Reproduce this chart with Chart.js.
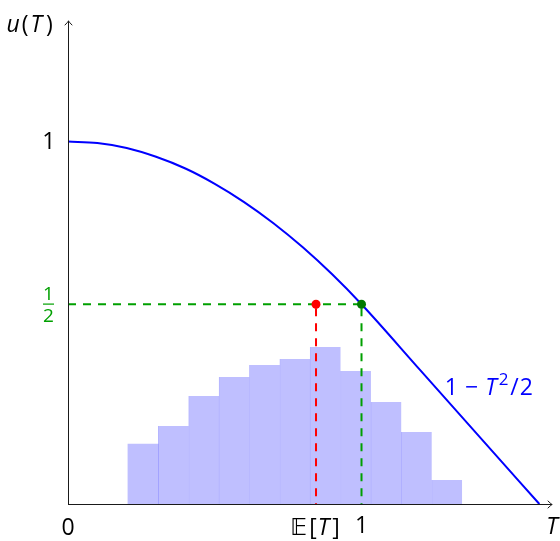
<!DOCTYPE html>
<html>
<head>
<meta charset="utf-8">
<script src="https://cdn.jsdelivr.net/npm/chart.js@4.4.1/dist/chart.umd.min.js"></script>
<style>
  html, body { margin: 0; padding: 0; background: #ffffff; }
  #wrap { width: 560px; height: 541px; }
</style>
</head>
<body>
<div id="wrap"><canvas id="c" width="560" height="541"></canvas></div>
<script>
// Utility curve u(T), sampled along the drawn line
const curveT = [0, 0.1, 0.2, 0.3, 0.4, 0.5, 0.6, 0.7, 0.8, 0.9, 1.0, 1.2, 1.4, 1.606];
const curveU = [1.000, 0.995, 0.980, 0.953, 0.917, 0.870, 0.814, 0.749, 0.675, 0.592, 0.500, 0.2977, 0.0953, -0.1133];

// Histogram of T (bin centres and bar heights above the horizontal axis)
const binCenters = [0.2559, 0.3594, 0.4629, 0.5664, 0.6699, 0.7734, 0.8769, 0.9804, 1.0839, 1.1874, 1.2909];
const binHeights = [0.1843, 0.2396, 0.3317, 0.3900, 0.4269, 0.4453, 0.4822, 0.4085, 0.3133, 0.2211, 0.0737];

// Marked points
const expectedT = 0.845;   // E[T]
const certainT = 1;        // T = 1
const halfU = 0.5;         // u = 1/2

// Axis extents
const X_MIN = 0, X_MAX = 1.649;
const Y_MIN = -0.1133, Y_MAX = 1.370;

const BLUE = '#0000ff';
const RED = '#ff0000';
const GREEN_DASH = '#00a000';
const GREEN_DOT = '#007a00';
const HIST_FILL = '#bfbfff';
const FONT_FAMILY = '"Open Sans", "DejaVu Sans", sans-serif';

const curvePoints = curveT.map((t, i) => ({ x: t, y: curveU[i] }));
const histPoints = binCenters.map((c, i) => ({ x: c, y: binHeights[i] }));

// Draws a sequence of text runs (different fonts / offsets) starting at x
function drawRuns(ctx, x, y, runs, align) {
  let total = 0;
  runs.forEach(r => { ctx.font = r.font; total += ctx.measureText(r.text).width + (r.gap || 0); });
  let cx = align === 'center' ? x - total / 2 : (align === 'right' ? x - total : x);
  ctx.textAlign = 'left';
  ctx.textBaseline = 'alphabetic';
  runs.forEach(r => {
    ctx.font = r.font;
    ctx.fillText(r.text, cx, y + (r.dy || 0));
    cx += ctx.measureText(r.text).width + (r.gap || 0);
  });
}

const axesAndLabels = {
  id: 'axesAndLabels',
  afterDatasetsDraw(chart) {
    const ctx = chart.ctx;
    const xs = chart.scales.x, ys = chart.scales.y;
    const x0 = Math.round(xs.getPixelForValue(X_MIN)) + 0.5;
    const y0 = Math.round(ys.getPixelForValue(Y_MIN)) + 0.5;
    const xEnd = xs.getPixelForValue(X_MAX);
    const yEnd = ys.getPixelForValue(Y_MAX);
    ctx.save();
    ctx.strokeStyle = '#1a1a1a';
    ctx.lineWidth = 1;
    ctx.lineCap = 'round';
    ctx.lineJoin = 'round';
    // horizontal axis with arrow
    ctx.beginPath();
    ctx.moveTo(x0, y0); ctx.lineTo(xEnd, y0);
    ctx.moveTo(xEnd - 4, y0 - 3.5); ctx.quadraticCurveTo(xEnd - 1.5, y0 - 1, xEnd, y0);
    ctx.quadraticCurveTo(xEnd - 1.5, y0 + 1, xEnd - 4, y0 + 3.5);
    ctx.stroke();
    // vertical axis with arrow
    ctx.beginPath();
    ctx.moveTo(x0, y0); ctx.lineTo(x0, yEnd);
    ctx.moveTo(x0 - 3.5, yEnd + 4); ctx.quadraticCurveTo(x0 - 1, yEnd + 1.5, x0, yEnd);
    ctx.quadraticCurveTo(x0 + 1, yEnd + 1.5, x0 + 3.5, yEnd + 4);
    ctx.stroke();

    const REG = '23px ' + FONT_FAMILY;
    const IT = 'italic 23px ' + FONT_FAMILY;
    ctx.fillStyle = '#000000';

    // vertical axis title u(T)
    drawRuns(ctx, x0 - 62, yEnd + 11, [
      { text: 'u', font: IT, gap: 2 },
      { text: '(', font: REG, gap: 2 },
      { text: 'T', font: IT, gap: 4 },
      { text: ')', font: REG }
    ], 'left');

    // horizontal axis title T
    drawRuns(ctx, xEnd, y0 + 29, [{ text: 'T', font: IT }], 'center');

    // horizontal axis labels
    const xBase = y0 + 28;
    drawRuns(ctx, xs.getPixelForValue(0), xBase + 2, [{ text: '0', font: REG }], 'center');
    drawRuns(ctx, xs.getPixelForValue(certainT), xBase, [{ text: '1', font: REG }], 'center');
    drawRuns(ctx, xs.getPixelForValue(expectedT) - 1, xBase + 2, [
      { text: '\u{1D53C}', font: '23px "DejaVu Sans", sans-serif', gap: 2 },
      { text: '[', font: REG, gap: 1 },
      { text: 'T', font: IT, gap: 3 },
      { text: ']', font: REG }
    ], 'center');

    // vertical axis label 1
    drawRuns(ctx, x0 - 13, ys.getPixelForValue(1) + 8, [{ text: '1', font: REG }], 'right');

    // vertical axis label 1/2 as a stacked fraction
    const fy = ys.getPixelForValue(halfU);
    const fx = x0 - 20;
    ctx.fillStyle = GREEN_DASH;
    drawRuns(ctx, fx, fy - 4, [{ text: '1', font: '19px ' + FONT_FAMILY }], 'center');
    drawRuns(ctx, fx, fy + 18, [{ text: '2', font: '19px ' + FONT_FAMILY }], 'center');
    ctx.fillRect(fx - 5.5, Math.round(fy) - 0.5, 11, 1.2);

    // curve label 1 − T²/2
    ctx.fillStyle = BLUE;
    const lx = xs.getPixelForValue(1.284);
    const ly = ys.getPixelForValue(0.221);
    drawRuns(ctx, lx, ly, [
      { text: '1', font: REG, gap: 7 },
      { text: '\u2212', font: REG, gap: 7 },
      { text: 'T', font: IT, gap: 2 },
      { text: '2', font: '17px ' + FONT_FAMILY, dy: -10, gap: 2 },
      { text: '/', font: REG, gap: 1 },
      { text: '2', font: REG }
    ], 'left');
    ctx.restore();
  }
};

new Chart(document.getElementById('c'), {
  type: 'line',
  data: {
    datasets: [
      {
        type: 'bar',
        label: 'histogram',
        data: histPoints,
        yAxisID: 'yHist',
        backgroundColor: HIST_FILL,
        borderColor: 'rgba(120,120,255,0.55)',
        borderWidth: ctx => (ctx.dataIndex > 0 ? { left: 1, right: 0, top: 0, bottom: 0 } : 0),
        borderSkipped: false,
        barPercentage: 1,
        categoryPercentage: 1,
        order: 10
      },
      {
        type: 'line',
        label: 'half level',
        data: [{ x: 0, y: halfU }, { x: certainT, y: halfU }],
        borderColor: GREEN_DASH,
        borderWidth: 2,
        borderDash: [8, 7],
        pointRadius: 0,
        order: 6
      },
      {
        type: 'line',
        label: 'certain drop',
        data: [{ x: certainT, y: halfU }, { x: certainT, y: Y_MIN }],
        borderColor: GREEN_DASH,
        borderWidth: 2,
        borderDash: [8, 7],
        borderDashOffset: -4,
        pointRadius: 0,
        order: 6
      },
      {
        type: 'line',
        label: 'expected drop',
        data: [{ x: expectedT, y: halfU }, { x: expectedT, y: Y_MIN }],
        borderColor: RED,
        borderWidth: 2,
        borderDash: [8, 7],
        borderDashOffset: -4,
        pointRadius: 0,
        order: 6
      },
      {
        type: 'line',
        label: 'u(T)',
        data: curvePoints,
        borderColor: BLUE,
        borderWidth: 2,
        pointRadius: 0,
        cubicInterpolationMode: 'monotone',
        clip: 4,
        order: 3
      },
      {
        type: 'scatter',
        label: 'E[T]',
        data: [{ x: expectedT, y: halfU }],
        pointRadius: 4.5,
        pointBackgroundColor: RED,
        pointBorderWidth: 0,
        showLine: false,
        order: 1
      },
      {
        type: 'scatter',
        label: 'T=1',
        data: [{ x: certainT, y: halfU }],
        pointRadius: 4.5,
        pointBackgroundColor: GREEN_DOT,
        pointBorderWidth: 0,
        showLine: false,
        order: 1
      }
    ]
  },
  options: {
    responsive: false,
    animation: false,
    events: [],
    layout: { padding: { left: 68, right: 8, top: 21, bottom: 37 } },
    plugins: { legend: { display: false }, tooltip: { enabled: false } },
    scales: {
      x: {
        type: 'linear', min: X_MIN, max: X_MAX, display: false, offset: false,
        afterBuildTicks: s => { s.ticks = [{ value: 0 }, { value: 1 }]; }
      },
      y: { type: 'linear', min: Y_MIN, max: Y_MAX, display: false, offset: false },
      yHist: { type: 'linear', min: 0, max: Y_MAX - Y_MIN, display: false, offset: false }
    }
  },
  plugins: [axesAndLabels]
});
</script>
</body>
</html>
